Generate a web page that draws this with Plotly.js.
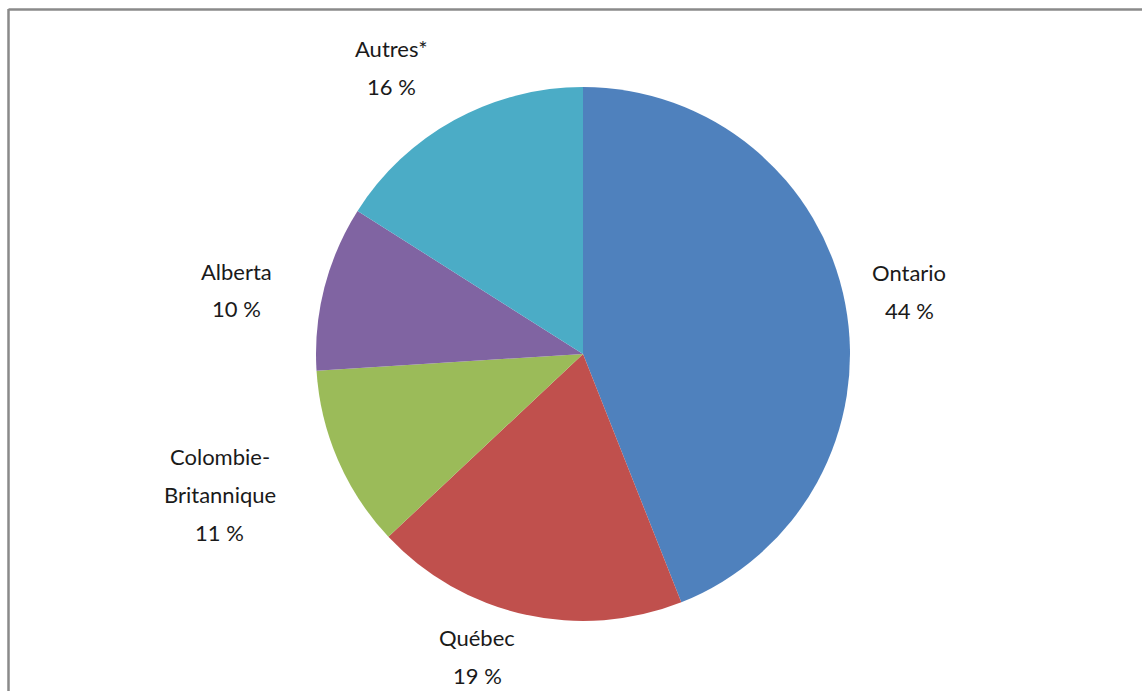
<!DOCTYPE html>
<html><head><meta charset="utf-8">
<script src="https://cdn.plot.ly/plotly-3.0.1.min.js"></script>
<style>html,body{margin:0;padding:0;background:#fff;}#chart{width:1142px;height:691px;}</style>
</head><body><div id="chart"></div>
<script>
const categories = ["Ontario", "Québec", "Colombie-Britannique", "Alberta", "Autres*"];
const labelLines = [["Ontario"], ["Québec"], ["Colombie-", "Britannique"], ["Alberta"], ["Autres*"]];
const values = [44, 19, 11, 10, 16];
const colors = ["#4F81BD", "#C0504D", "#9BBB59", "#8064A2", "#4BACC6"];
// label block centres in pixels (layout only)
const labelCenter = [[909, 291], [477, 656], [220, 494], [236, 290], [391, 67]];

const W = 1142, H = 691;
const cx = 583, cy = 354, R = 267;
const lineGap = 38;

const trace = {
  type: "pie",
  labels: categories,
  values: values,
  marker: {colors: colors, line: {color: "#ffffff", width: 0}},
  sort: false,
  direction: "clockwise",
  rotation: 0,
  textinfo: "none",
  hoverinfo: "label+percent",
  showlegend: false,
  domain: {x: [(cx - R) / W, (cx + R) / W], y: [(H - cy - R) / H, (H - cy + R) / H]}
};

const annotations = [];
categories.forEach((c, i) => {
  const lines = labelLines[i].concat([values[i] + " %"]);
  const n = lines.length;
  lines.forEach((t, k) => {
    const py = labelCenter[i][1] + (k - (n - 1) / 2) * lineGap;
    annotations.push({
      xref: "paper", yref: "paper",
      x: labelCenter[i][0] / W, y: 1 - py / H,
      xanchor: "center", yanchor: "middle",
      text: t, showarrow: false,
      font: {family: "Lato, 'Open Sans', sans-serif", size: 22, color: "#1a1a1a"}
    });
  });
});

const layout = {
  width: W, height: H,
  margin: {l: 0, r: 0, t: 0, b: 0},
  paper_bgcolor: "#ffffff",
  plot_bgcolor: "#ffffff",
  showlegend: false,
  annotations: annotations,
  shapes: [
    {type: "line", xref: "paper", yref: "paper", x0: 8.5 / W, x1: 8.5 / W, y0: 0, y1: 1 - 9 / H, line: {color: "#8a8a8a", width: 2.5}},
    {type: "line", xref: "paper", yref: "paper", x0: 8.5 / W, x1: 1, y0: 1 - 9.5 / H, y1: 1 - 9.5 / H, line: {color: "#8a8a8a", width: 2.5}}
  ]
};

Plotly.newPlot("chart", [trace], layout, {displayModeBar: false, staticPlot: true});
</script>
</body></html>
